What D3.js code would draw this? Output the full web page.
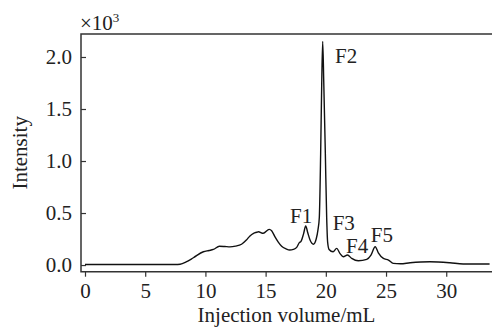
<!DOCTYPE html>
<html>
<head>
<meta charset="utf-8">
<script src="https://cdn.jsdelivr.net/npm/d3@7"></script>
<style>
	body { margin: 0; background: #fff; }
	svg { display: block; }
	text { font-family: 'Liberation Serif', 'Times New Roman', serif; fill: #222; }
</style>
</head>
<body>
<svg></svg>
<script>
const width = 492;
const height = 327;

// elution profile (volume in mL, intensity in 10^3)
const volume = [0, 7.5, 7.9, 8.4, 9.0, 9.83, 10.3, 10.66, 11.16, 11.6, 12.04, 12.5, 13.0, 13.4, 13.7,
	14.0, 14.26, 14.4, 14.8, 15.3, 15.5, 15.78, 16.05, 16.33, 16.7, 17.0, 17.3, 17.58, 17.8, 17.95,
	18.15, 18.33, 18.5, 18.69, 18.97, 19.2, 19.35, 19.46, 19.57, 19.66, 19.74, 19.83, 19.96, 20.07,
	20.15, 20.27, 20.6, 20.9, 21.18, 21.45, 21.8, 22.15, 22.7, 23.4, 23.75, 24.1, 24.36, 24.78,
	25.2, 25.6, 26.2, 27.0, 28.65, 30.3, 31.4, 33.6];
const intensity = [0.005, 0.005, 0.008, 0.03, 0.07, 0.128, 0.14, 0.15, 0.18, 0.178, 0.175, 0.182, 0.2, 0.24, 0.28,
	0.305, 0.315, 0.32, 0.305, 0.343, 0.33, 0.27, 0.22, 0.18, 0.155, 0.144, 0.15, 0.17, 0.215, 0.23,
	0.3, 0.375, 0.31, 0.24, 0.2, 0.25, 0.34, 0.46, 1.07, 1.75, 2.15, 1.75, 1.07, 0.46,
	0.22, 0.15, 0.128, 0.16, 0.11, 0.08, 0.096, 0.064, 0.041, 0.055, 0.096, 0.176, 0.118, 0.064,
	0.048, 0.016, 0.012, 0.022, 0.032, 0.022, 0.01, 0.01];

const xTicks = [0, 5, 10, 15, 20, 25, 30];
const yTicks = [0, 0.5, 1.0, 1.5, 2.0];

// fraction labels, anchored in data units
const peakNames = ['F1', 'F2', 'F3', 'F4', 'F5'];
const peakLabelVol = [17.03, 20.76, 20.57, 21.68, 23.73];
const peakLabelInt = [0.404, 1.942, 0.337, 0.115, 0.226];

const data = volume.map((v, i) => ({ v, y: intensity[i] }));

const svg = d3.select('svg')
	.attr('width', width)
	.attr('height', height);

const plot = { left: 81, right: 492, top: 34, bottom: 271.7 };

const xScale = d3.scaleLinear()
	.domain([-0.332, 33.8])
	.range([plot.left, plot.right]);

const yScale = d3.scaleLinear()
	.domain([-0.064, 2.221])
	.range([plot.bottom, plot.top]);

// curve
const line = d3.line()
	.x(d => xScale(d.v))
	.y(d => yScale(d.y))
	.curve(d3.curveMonotoneX);

svg.append('path')
	.datum(data)
	.attr('fill', 'none')
	.attr('stroke', '#111')
	.attr('stroke-width', 1.4)
	.attr('d', line);

// axes
const yAxis = d3.axisLeft(yScale)
	.tickValues(yTicks)
	.tickFormat(d3.format('.1f'))
	.tickSize(-5)
	.tickPadding(9);

const yAxisG = svg.append('g')
	.attr('transform', `translate(${plot.left},0)`)
	.call(yAxis);

const xAxis = d3.axisBottom(xScale)
	.tickValues(xTicks)
	.tickSize(5)
	.tickPadding(6);

const xAxisG = svg.append('g')
	.attr('transform', `translate(0,${plot.bottom})`)
	.call(xAxis);

[yAxisG, xAxisG].forEach(g => {
	g.select('.domain').remove();
	g.selectAll('.tick line').attr('stroke', '#333').attr('stroke-width', 1.2);
	g.selectAll('.tick text')
		.attr('font-family', "'Liberation Serif', serif")
		.attr('font-size', 21)
		.attr('fill', '#222');
});

// frame: left, top and bottom lines
svg.append('path')
	.attr('d', `M${plot.right},${plot.top}H${plot.left}V${plot.bottom}H${plot.right}`)
	.attr('fill', 'none')
	.attr('stroke', '#333')
	.attr('stroke-width', 1.5);

// axis titles
svg.append('text')
	.attr('x', (plot.left + plot.right) / 2)
	.attr('y', 321.5)
	.attr('text-anchor', 'middle')
	.attr('font-size', 21)
	.text('Injection volume/mL');

svg.append('text')
	.attr('transform', `translate(27,${(plot.top + plot.bottom) / 2}) rotate(-90)`)
	.attr('text-anchor', 'middle')
	.attr('font-size', 21)
	.text('Intensity');

// scale factor
const mult = svg.append('text')
	.attr('x', 80)
	.attr('y', 30)
	.attr('font-size', 21);
mult.append('tspan').text('×10');
mult.append('tspan')
	.attr('font-size', 13)
	.attr('dy', -8)
	.text('3');

// peak labels
svg.selectAll('.peak')
	.data(peakNames)
	.enter().append('text')
	.attr('class', 'peak')
	.attr('x', (d, i) => xScale(peakLabelVol[i]))
	.attr('y', (d, i) => yScale(peakLabelInt[i]))
	.attr('font-size', 21)
	.text(d => d);
</script>
</body>
</html>
